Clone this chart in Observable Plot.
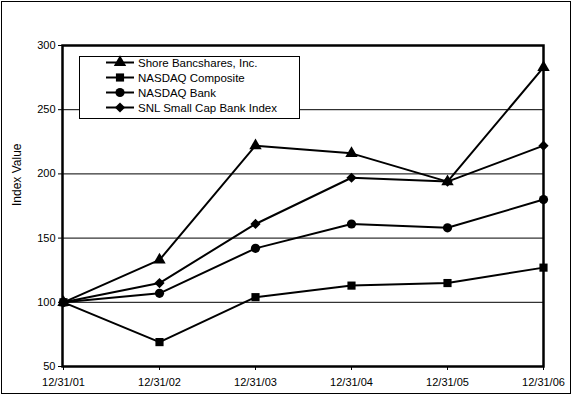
<!DOCTYPE html>
<html>
<head>
<meta charset="utf-8">
<script src="https://cdn.jsdelivr.net/npm/d3@7"></script>
<script src="https://cdn.jsdelivr.net/npm/@observablehq/plot@0.6"></script>
<style>
  html, body { margin: 0; padding: 0; background: #fff; }
  #wrap { position: relative; width: 575px; height: 399px; font-family: "Liberation Sans", Arial, sans-serif; }
  #border { position: absolute; left: 1px; top: 1px; width: 570px; height: 393px; border: 1px solid #000; box-sizing: border-box; pointer-events: none; }
  #legend { position: absolute; left: 79px; top: 56px; width: 221px; height: 63px; border: 1px solid #000; box-sizing: border-box; background: #fff; font-size: 11.5px; }
  #legend .row { position: absolute; left: 26px; height: 15px; display: flex; align-items: center; }
  #legend svg { margin-right: 2px; }
</style>
</head>
<body>
<div id="wrap">
  <div id="chart"></div>
  <div id="legend"></div>
  <div id="border"></div>
</div>
<script>
const dates = ["12/31/01", "12/31/02", "12/31/03", "12/31/04", "12/31/05", "12/31/06"];
const seriesNames = ["Shore Bancshares, Inc.", "NASDAQ Composite", "NASDAQ Bank", "SNL Small Cap Bank Index"];
const seriesSymbols = ["triangle", "square", "circle", "diamond2"];
const shore = [100, 133, 222, 216, 194, 283];
const nasdaqComposite = [100, 69, 104, 113, 115, 127];
const nasdaqBank = [100, 107, 142, 161, 158, 180];
const snlSmallCap = [100, 115, 161, 197, 194, 222];
const yTicks = [50, 100, 150, 200, 250, 300];
const gridValues = [100, 150, 200, 250];

const allSeries = [shore, nasdaqComposite, nasdaqBank, snlSmallCap];
const data = [];
allSeries.forEach((vals, si) => {
  vals.forEach((v, i) => data.push({date: dates[i], value: v, series: seriesNames[si], symbol: seriesSymbols[si]}));
});

const chart = Plot.plot({
  width: 575,
  height: 399,
  marginLeft: 62,
  marginRight: 32,
  marginTop: 45,
  marginBottom: 33,
  style: {fontFamily: "'Liberation Sans', Arial, sans-serif", fontSize: "11px", color: "#000", background: "transparent"},
  x: {type: "point", domain: dates, padding: 0, label: null},
  y: {domain: [50, 300], ticks: yTicks, label: null},
  symbol: {domain: seriesSymbols, range: seriesSymbols},
  marks: [
    Plot.ruleY(gridValues, {stroke: "#000", strokeWidth: 1}),
    Plot.axisY({ticks: yTicks, tickSize: 4, tickPadding: 3, label: null, stroke: "#000", strokeWidth: 1}),
    Plot.axisX({tickSize: 4, tickPadding: 8, label: null, stroke: "#000", strokeWidth: 1}),
    Plot.frame({stroke: "#000", strokeWidth: 2.5}),
    Plot.line(data, {x: "date", y: "value", z: "series", stroke: "#000", strokeWidth: 2}),
    Plot.dot(data, {x: "date", y: "value", symbol: "symbol", r: 4.6, fill: "#000", stroke: "none"}),
    Plot.text(["Index Value"], {frameAnchor: "left", dx: -45, rotate: -90, fontSize: 12, fill: "#000"})
  ]
});
document.getElementById("chart").appendChild(chart);

// legend
const legend = d3.select("#legend");
const symMap = {triangle: d3.symbolTriangle, square: d3.symbolSquare, circle: d3.symbolCircle, diamond2: d3.symbolDiamond2};
seriesNames.forEach((name, i) => {
  const row = legend.append("div").attr("class", "row").style("top", (i * 15 - 2) + "px");
  const svg = row.append("svg").attr("width", 30).attr("height", 15);
  svg.append("line").attr("x1", 0).attr("x2", 28).attr("y1", 7.5).attr("y2", 7.5).attr("stroke", "#000").attr("stroke-width", 2);
  svg.append("path").attr("transform", "translate(14,7.5)").attr("d", d3.symbol(symMap[seriesSymbols[i]], 4.6 * 4.6 * Math.PI)()).attr("fill", "#000");
  row.append("span").text(name);
});
</script>
</body>
</html>
